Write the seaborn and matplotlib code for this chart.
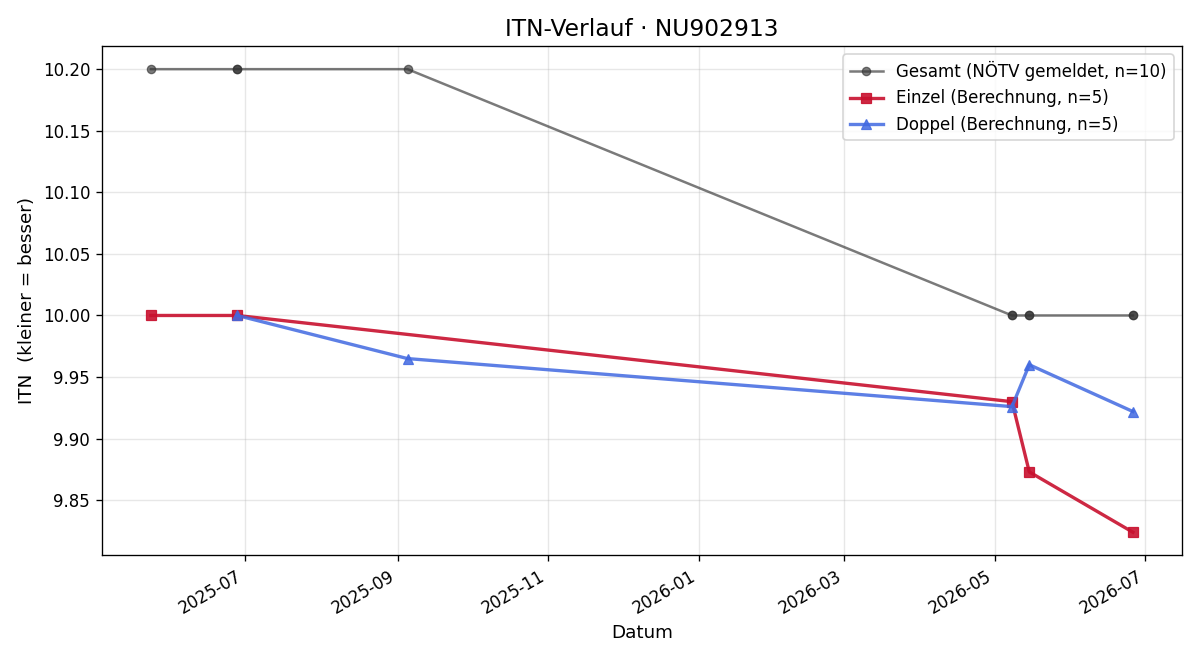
import matplotlib
matplotlib.use("Agg")
import matplotlib.pyplot as plt
import matplotlib.dates as mdates
import pandas as pd
import seaborn as sns

# Daten
gesamt_datum = ["2025-05-24", "2025-06-28", "2025-06-28", "2025-09-05",
                "2026-05-08", "2026-05-08", "2026-05-15", "2026-05-15",
                "2026-06-26", "2026-06-26"]
gesamt_itn = [10.20, 10.20, 10.20, 10.20, 10.00, 10.00, 10.00, 10.00, 10.00, 10.00]

einzel_datum = ["2025-05-24", "2025-06-28", "2026-05-08", "2026-05-15", "2026-06-26"]
einzel_itn = [10.000, 10.000, 9.930, 9.873, 9.824]

doppel_datum = ["2025-06-28", "2025-09-05", "2026-05-08", "2026-05-15", "2026-06-26"]
doppel_itn = [10.000, 9.965, 9.926, 9.960, 9.922]

df_g = pd.DataFrame({"Datum": pd.to_datetime(gesamt_datum), "ITN": gesamt_itn})
df_e = pd.DataFrame({"Datum": pd.to_datetime(einzel_datum), "ITN": einzel_itn})
df_d = pd.DataFrame({"Datum": pd.to_datetime(doppel_datum), "ITN": doppel_itn})

fig, ax = plt.subplots(figsize=(10, 5.5), dpi=120)

sns.lineplot(data=df_g, x="Datum", y="ITN", ax=ax, estimator=None, sort=False,
             color="#333333", alpha=0.65, marker="o", markersize=5, linewidth=1.5,
             markeredgecolor="#333333", label="Gesamt (NÖTV gemeldet, n=10)")
sns.lineplot(data=df_e, x="Datum", y="ITN", ax=ax, estimator=None, sort=False,
             color="#c8102e", alpha=0.9, marker="s", markersize=6, linewidth=2,
             markeredgecolor="#c8102e", label="Einzel (Berechnung, n=5)")
sns.lineplot(data=df_d, x="Datum", y="ITN", ax=ax, estimator=None, sort=False,
             color="#4169e1", alpha=0.85, marker="^", markersize=6, linewidth=2,
             markeredgecolor="#4169e1", label="Doppel (Berechnung, n=5)")

ax.set_title("ITN-Verlauf · NU902913", fontsize=14)
ax.set_xlabel("Datum", fontsize=11)
ax.set_ylabel("ITN  (kleiner = besser)", fontsize=11)
ax.xaxis.set_major_locator(mdates.MonthLocator(bymonth=[1, 3, 5, 7, 9, 11]))
ax.xaxis.set_major_formatter(mdates.DateFormatter("%Y-%m"))
ax.yaxis.set_major_formatter(matplotlib.ticker.FormatStrFormatter("%.2f"))
ax.grid(True, alpha=0.3)
ax.legend(loc="upper right")
fig.autofmt_xdate()

fig.tight_layout()
fig.savefig("out.png")
